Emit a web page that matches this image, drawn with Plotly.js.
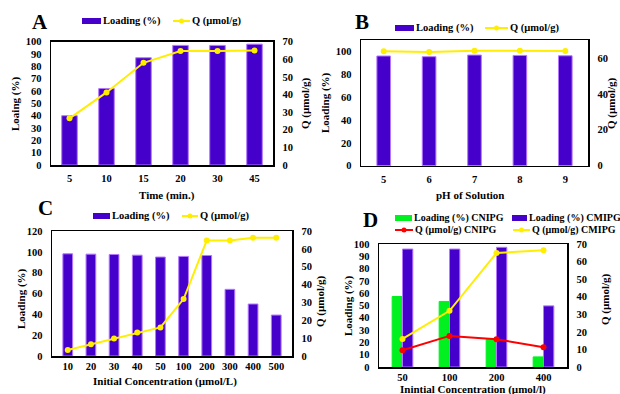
<!DOCTYPE html>
<html><head><meta charset="utf-8">
<script src="https://cdn.plot.ly/plotly-3.0.1.min.js"></script>
<style>html,body{margin:0;padding:0;background:#fff}</style>
</head><body>
<div id="chart" style="width:620px;height:394px"></div>
<script>
// ---- data ----
const timeCats = ['5','10','15','20','30','45'];
const timeLoading = [40, 62, 87, 97, 97, 98];
const timeQ = [26.5, 41.2, 58, 64.7, 64.7, 65];

const phCats = ['5','6','7','8','9'];
const phLoading = [96, 95.4, 96.8, 96.5, 96.2];
const phQ = [63.7, 63.3, 64, 64, 63.9];

const concCats = ['10','20','30','40','50','100','200','300','400','500'];
const concLoading = [98.1, 97.8, 97.5, 96.8, 95, 95.6, 96.5, 64, 49.9, 39.3];
const concQ = [3.4, 6.6, 9.8, 13.1, 16, 31.9, 64.7, 64.7, 66.2, 66.2];

const cmpCats = ['50','100','200','400'];
const cnipgLoading = [57.3, 53.3, 22.6, 8.2];
const cmipgLoading = [95.9, 95.9, 97.3, 49.7];
const cnipgQ = [9.5, 17.7, 15.8, 11.2];
const cmipgQ = [16, 32, 64.9, 66.4];

// ---- styles ----
const W = 620, H = 394;
const PURPLE = '#4600cc', PURPLE_EDGE = '#b477ff';
const GREEN = '#00f020', YELLOW = '#ffee00', RED = '#ff0000';
const FONT = 'Liberation Serif';
const px = v => v / W;
const py = v => 1 - v / H;

const barStyle = c => ({color: c, line: {color: c === PURPLE ? PURPLE_EDGE : c, width: 1}});
const lineStyle = c => ({mode: 'lines+markers', line: {color: c, width: 2}, marker: {color: c, size: 6}});

const traces = [
  Object.assign({type: 'bar', name: 'Loading (%)', x: timeCats, y: timeLoading, width: 0.42, marker: barStyle(PURPLE), xaxis: 'x', yaxis: 'y', showlegend: false}),
  Object.assign({type: 'scatter', name: 'Q (µmol/g)', x: timeCats, y: timeQ, xaxis: 'x', yaxis: 'y2', showlegend: false}, lineStyle(YELLOW)),

  Object.assign({type: 'bar', name: 'Loading (%)', x: phCats, y: phLoading, width: 0.3, marker: barStyle(PURPLE), xaxis: 'x2', yaxis: 'y3', showlegend: false}),
  Object.assign({type: 'scatter', name: 'Q (µmol/g)', x: phCats, y: phQ, xaxis: 'x2', yaxis: 'y4', showlegend: false}, lineStyle(YELLOW)),

  Object.assign({type: 'bar', name: 'Loading (%)', x: concCats, y: concLoading, width: 0.42, marker: barStyle(PURPLE), xaxis: 'x3', yaxis: 'y5', showlegend: false}),
  Object.assign({type: 'scatter', name: 'Q (µmol/g)', x: concCats, y: concQ, xaxis: 'x3', yaxis: 'y6', showlegend: false}, lineStyle(YELLOW)),

  Object.assign({type: 'bar', name: 'Loading (%) CNIPG', x: cmpCats, y: cnipgLoading, width: 0.21, offset: -0.22, marker: barStyle(GREEN), xaxis: 'x4', yaxis: 'y7', showlegend: false}),
  Object.assign({type: 'bar', name: 'Loading (%) CMIPG', x: cmpCats, y: cmipgLoading, width: 0.22, offset: 0.0, marker: barStyle(PURPLE), xaxis: 'x4', yaxis: 'y7', showlegend: false}),
  Object.assign({type: 'scatter', name: 'Q (µmol/g) CNIPG', x: cmpCats, y: cnipgQ, xaxis: 'x4', yaxis: 'y8', showlegend: false}, lineStyle(RED)),
  Object.assign({type: 'scatter', name: 'Q (µmol/g) CMIPG', x: cmpCats, y: cmipgQ, xaxis: 'x4', yaxis: 'y8', showlegend: false}, lineStyle(YELLOW))
];

const axLine = {showline: true, linecolor: '#000', linewidth: 1.5, showgrid: false, zeroline: false, automargin: false, ticks: '', fixedrange: true};
const tfont = {family: FONT, size: 10.5, color: '#000', weight: 'bold'};

function xax(dom, anchor, standoff) {
  return Object.assign({}, axLine, {domain: dom, anchor: anchor, type: 'category', mirror: true, tickfont: tfont, ticklabelstandoff: standoff});
}
function yl(dom, anchor, range, dtick) {
  return Object.assign({}, axLine, {domain: dom, anchor: anchor, range: range, dtick: dtick, tickfont: tfont, ticklabelstandoff: 6});
}
function yr(overlay, anchor, range, dtick) {
  return Object.assign({}, axLine, {overlaying: overlay, anchor: anchor, side: 'right', range: range, dtick: dtick, tickfont: tfont, ticklabelstandoff: 6});
}

const domA = {x: [px(51), px(273)], y: [py(165), py(41.7)]};
const domB = {x: [px(361), px(588)], y: [py(165.7), py(40)]};
const domC = {x: [px(52), px(292)], y: [py(356), py(231)]};
const domD = {x: [px(379), px(567)], y: [py(367), py(244)]};

const layout = {
  width: W, height: H,
  margin: {l: 0, r: 0, t: 0, b: 0},
  paper_bgcolor: '#fff', plot_bgcolor: '#fff',
  font: {family: FONT, color: '#000', weight: 'bold'},
  showlegend: false,
  barmode: 'overlay',
  xaxis: xax(domA.x, 'y', 3),
  yaxis: yl(domA.y, 'x', [0, 100], 10),
  yaxis2: yr('y', 'x', [0, 70], 10),

  xaxis2: xax(domB.x, 'y3', 3),
  yaxis3: yl(domB.y, 'x2', [0, 110], 20),
  yaxis4: yr('y3', 'x2', [0, 70], 20),

  xaxis3: xax(domC.x, 'y5', 0),
  yaxis5: yl(domC.y, 'x3', [0, 120], 20),
  yaxis6: yr('y5', 'x3', [0, 70], 10),

  xaxis4: xax(domD.x, 'y7', 0),
  yaxis7: yl(domD.y, 'x4', [0, 100], 10),
  yaxis8: yr('y7', 'x4', [0, 70], 10),

  shapes: [],
  annotations: []
};

// panel letters
[['A', 40, 22], ['B', 362, 22], ['C', 45, 208], ['D', 370, 220]].forEach(([t, x, y]) => {
  layout.annotations.push({text: t, x: px(x), y: py(y), xref: 'paper', yref: 'paper', showarrow: false,
    xanchor: 'center', yanchor: 'middle', font: {family: FONT, size: 21, color: '#000', weight: 'bold'}});
});

// axis titles (pixel centres)
const titfont = {family: FONT, size: 11, color: '#000', weight: 'bold'};
function title(t, x, y, angle) {
  layout.annotations.push({text: t, x: px(x), y: py(y), xref: 'paper', yref: 'paper', showarrow: false,
    xanchor: 'center', yanchor: 'middle', textangle: angle, font: titfont});
}
title('Time (min.)', 167, 195, 0);
title('Loaing (%)', 15, 104, -90);
title('Q (µmol/g)', 305, 103, -90);

title('pH of Solution', 470, 195, 0);
title('Loading (%)', 325, 103, -90);
title('Q (µmol/g)', 611, 103, -90);

title('Initial Concentration (µmol/L)', 165, 381, 0);
title('Loading (%)', 21, 299, -90);
title('Q (µmol/g)', 320, 301, -90);

title('Inintial Concentration (µmol/l)', 473, 389.5, 0);
title('Loading (%)', 348, 306, -90);
title('Q (µmol/g)', 605, 299, -90);

// legend helpers (pixel positions)
function legText(t, x, y, size) {
  layout.annotations.push({text: t, x: px(x), y: py(y), xref: 'paper', yref: 'paper', showarrow: false,
    xanchor: 'left', yanchor: 'middle', borderpad: 0, font: {family: FONT, size: size, color: '#000', weight: 'bold'}});
}
function legBar(x0, x1, y, color, t, size) {
  layout.shapes.push({type: 'rect', xref: 'paper', yref: 'paper', x0: px(x0), x1: px(x1), y0: py(y + 3), y1: py(y - 3),
    fillcolor: color, line: {width: 0}});
  legText(t, x1 + 1, y, size);
}
function legLine(x0, x1, y, color, t, size) {
  layout.shapes.push({type: 'line', xref: 'paper', yref: 'paper', x0: px(x0), x1: px(x1), y0: py(y), y1: py(y),
    line: {color: color, width: 2}});
  const cx = (x0 + x1) / 2;
  layout.shapes.push({type: 'circle', xref: 'paper', yref: 'paper', x0: px(cx - 2.5), x1: px(cx + 2.5), y0: py(y + 2.5), y1: py(y - 2.5),
    fillcolor: color, line: {width: 0}});
  legText(t, x1 + 1, y, size);
}

legBar(82, 101, 21, PURPLE, 'Loading (%)', 10.5);
legLine(173, 190, 21, YELLOW, 'Q (µmol/g)', 10.5);

legBar(395, 414, 28, PURPLE, 'Loading (%)', 10.5);
legLine(485, 508, 28, YELLOW, 'Q (µmol/g)', 10.5);

legBar(93, 110, 216, PURPLE, 'Loading (%)', 10.5);
legLine(182, 198, 216, YELLOW, 'Q (µmol/g)', 10.5);

legBar(395, 412, 218, GREEN, 'Loading (%) CNIPG', 10);
legBar(512, 527, 218, PURPLE, 'Loading (%) CMIPG', 10);
legLine(395, 413, 230, RED, 'Q (µmol/g) CNIPG', 10);
legLine(513, 530, 230, YELLOW, 'Q (µmol/g) CMIPG', 10);

Plotly.newPlot('chart', traces, layout, {displayModeBar: false, staticPlot: true});
</script>
</body></html>
